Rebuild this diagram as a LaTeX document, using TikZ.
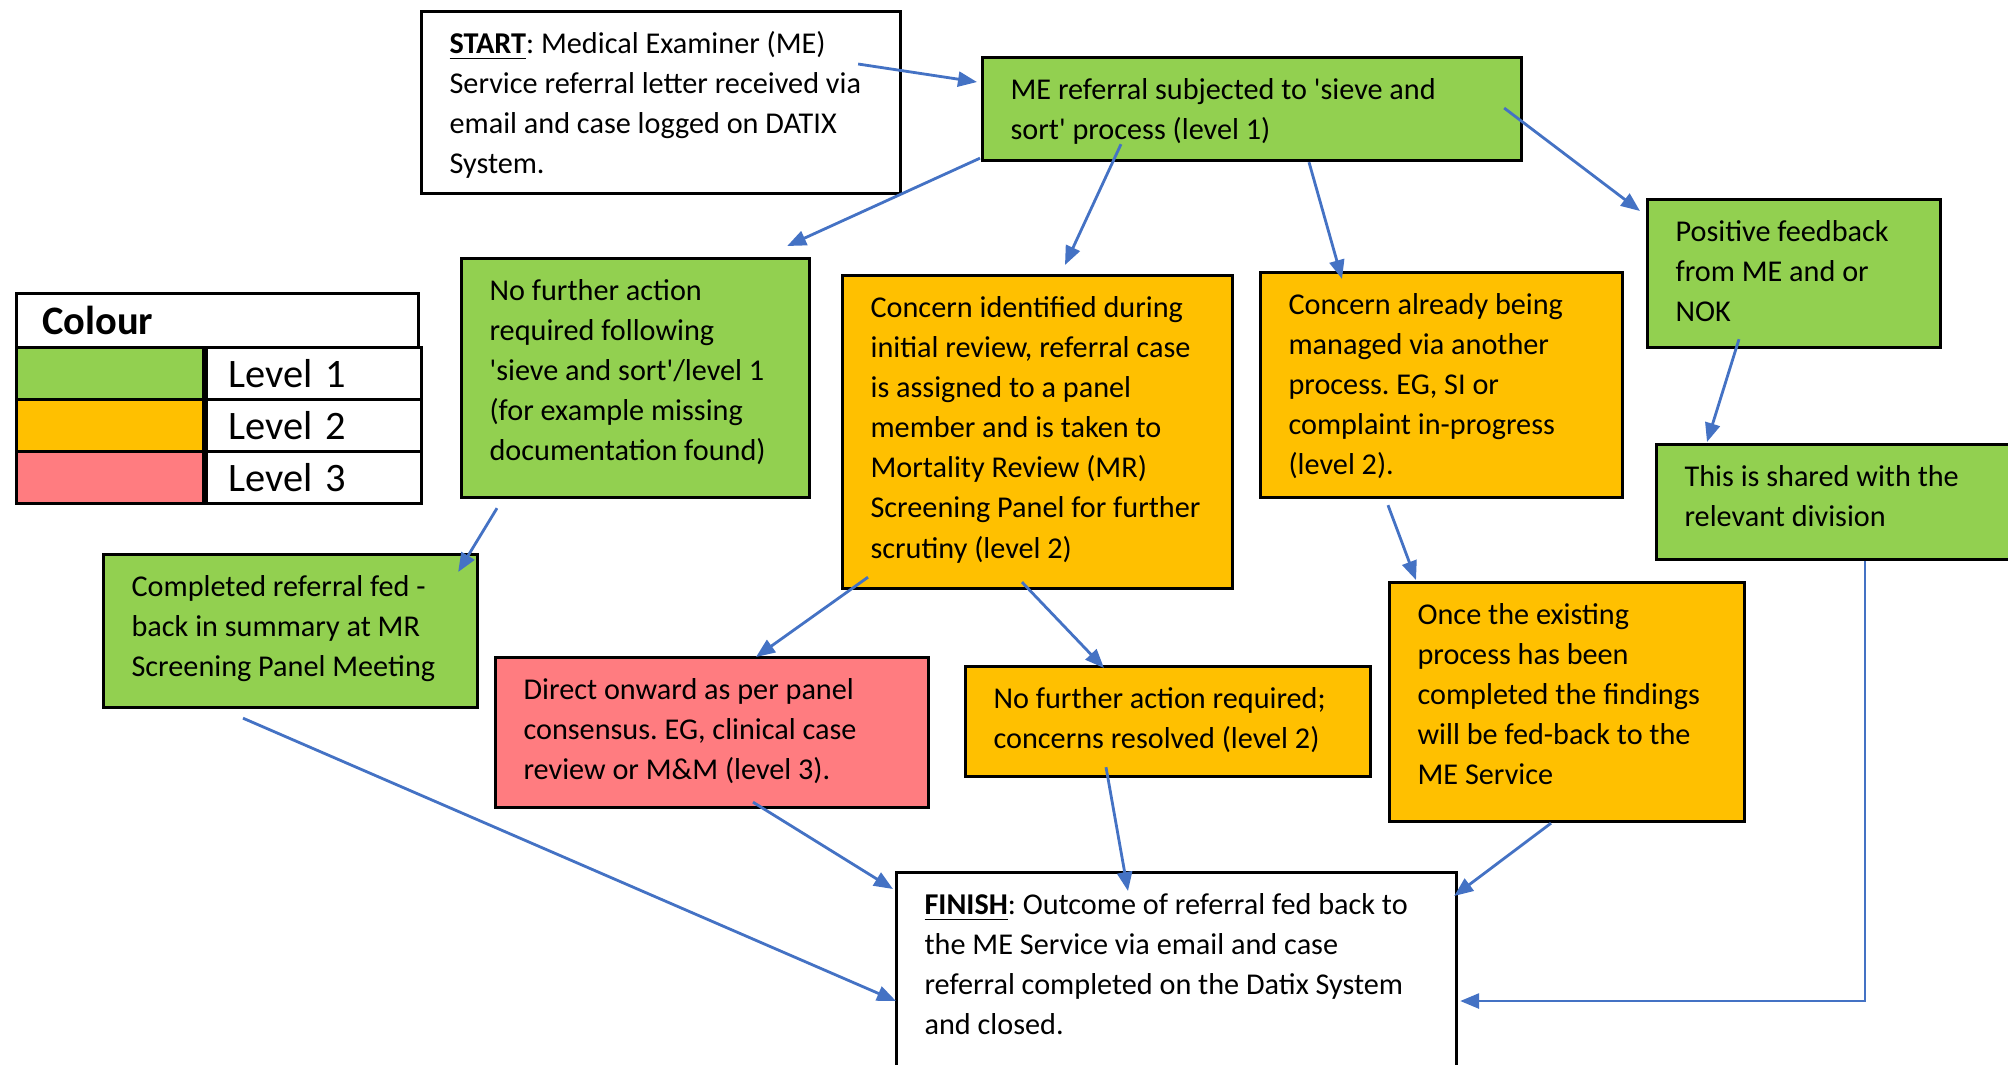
\documentclass[tikz,border=0pt]{standalone}
\usepackage{fontspec}
\setmainfont{Carlito}
\frenchspacing
\usetikzlibrary{arrows.meta}
\definecolor{lvlgreen}{HTML}{92D050}
\definecolor{lvlorange}{HTML}{FFC000}
\definecolor{lvlred}{HTML}{FF7C80}
\definecolor{flowblue}{HTML}{4472C4}
% text of a box: width, height, lines (set from the top left)
\newcommand{\cardtext}[3]{\parbox[c][#2][t]{#1}{\raggedright\leftskip=0.28cm\vspace*{0.14cm}\strut #3}}
\tikzset{
  card/.style={draw=black, line width=0.9pt, inner sep=0pt, anchor=north west,
    font=\fontsize{8.6}{11.4}\selectfont},
  flow/.style={draw=flowblue, line width=0.8pt, -{Triangle[length=0.19cm,width=0.15cm]}},
  legendcell/.style={draw=black, line width=0.8pt, anchor=north west,
    minimum height=0.52cm, inner sep=0pt}
}
\begin{document}
\begin{tikzpicture}
\useasboundingbox (0,0) rectangle (20.08,-10.64);
% Start and sieve
\node[card, fill=white] (start) at (4.20,-0.10) {\cardtext{4.79cm}{1.82cm}{\underline{\textbf{START}}: Medical Examiner (ME)\\ Service referral letter received via\\ email and case logged on DATIX\\ System.}};
\node[card, fill=lvlgreen] (sieve) at (9.81,-0.56) {\cardtext{5.39cm}{1.03cm}{ME referral subjected to \textquotesingle sieve and\\ sort\textquotesingle{} process (level 1)}};
% Second row
\node[card, fill=lvlgreen] (nofurther) at (4.60,-2.57) {\cardtext{3.48cm}{2.39cm}{No further action\\ required following\\ \textquotesingle sieve and sort\textquotesingle/level 1\\ (for example missing\\ documentation found)}};
\node[card, fill=lvlorange] (identified) at (8.41,-2.74) {\cardtext{3.90cm}{3.13cm}{Concern identified during\\ initial review, referral case\\ is assigned to a panel\\ member and is taken to\\ Mortality Review (MR)\\ Screening Panel for further\\ scrutiny (level 2)}};
\node[card, fill=lvlorange] (managed) at (12.59,-2.71) {\cardtext{3.62cm}{2.25cm}{Concern already being\\ managed via another\\ process. EG, SI or\\ complaint in-progress\\ (level 2).}};
\node[card, fill=lvlgreen] (positive) at (16.46,-1.98) {\cardtext{2.93cm}{1.48cm}{Positive feedback\\ from ME and or\\ NOK}};
\node[card, fill=lvlgreen] (shared) at (16.55,-4.43) {\cardtext{4.00cm}{1.15cm}{This is shared with the\\ relevant division}};
% Third row
\node[card, fill=lvlgreen] (completed) at (1.02,-5.53) {\cardtext{3.74cm}{1.53cm}{Completed referral fed -\\ back in summary at MR\\ Screening Panel Meeting}};
\node[card, fill=lvlred] (onward) at (4.94,-6.56) {\cardtext{4.33cm}{1.50cm}{Direct onward as per panel\\ consensus. EG, clinical case\\ review or M\&M (level 3).}};
\node[card, fill=lvlorange] (resolved) at (9.64,-6.65) {\cardtext{4.05cm}{1.10cm}{No further action required;\\ concerns resolved (level 2)}};
\node[card, fill=lvlorange] (existing) at (13.88,-5.81) {\cardtext{3.55cm}{2.39cm}{Once the existing\\ process has been\\ completed the findings\\ will be fed-back to the\\ ME Service}};
% Finish
\node[card, fill=white] (finish) at (8.95,-8.71) {\cardtext{5.60cm}{2.10cm}{\underline{\textbf{FINISH}}: Outcome of referral fed back to\\ the ME Service via email and case\\ referral completed on the Datix System\\ and closed.}};
% Legend
\node[legendcell, minimum width=4.02cm, minimum height=0.54cm, inner xsep=0.26cm, text width=3.50cm,
  align=left, font=\fontsize{11.5}{13}\selectfont\bfseries] (colourhead) at (0.15,-2.92) {Colour};
\foreach \shade/\lvl [count=\i] in {lvlgreen/1, lvlorange/2, lvlred/3}{
  \node[legendcell, fill=\shade, minimum width=1.87cm] (swatch\i) at (0.15,{-3.46-0.52*(\i-1)}) {};
  \node[legendcell, minimum width=2.15cm, inner xsep=0.22cm, text width=1.71cm, align=left,
    font=\fontsize{11.5}{13}\selectfont] (level\i) at (swatch\i.north east) {Level \lvl};
}
% Arrows out of the sieve
\draw[flow] ([shift={(-0.44,-0.54)}]start.north east) -- ([shift={(-0.04,-0.26)}]sieve.north west);
\draw[flow] ([shift={(-0.01,0.04)}]sieve.south west) -- ([shift={(-0.24,0.11)}]nofurther.north east);
\draw[flow] ([shift={(1.40,0.18)}]sieve.south west) -- ([shift={(2.24,0.09)}]identified.north west);
\draw[flow] ([shift={(3.28,0)}]sieve.south west) -- ([shift={(0.83,-0.08)}]managed.north west);
\draw[flow] ([shift={(-0.19,-0.52)}]sieve.north east) -- ([shift={(-0.06,-0.13)}]positive.north west);
% Middle arrows
\draw[flow] ([shift={(0.93,0.10)}]positive.south west) -- ([shift={(0.52,0.01)}]shared.north west);
\draw[flow] ([shift={(0.37,-0.09)}]nofurther.south west) -- ([shift={(-0.21,-0.19)}]completed.north east);
\draw[flow] ([shift={(0.27,0.13)}]identified.south west) -- ([shift={(2.62,-0.01)}]onward.north west);
\draw[flow] ([shift={(1.81,0.08)}]identified.south west) -- ([shift={(1.40,-0.03)}]resolved.north west);
\draw[flow] ([shift={(1.29,-0.06)}]managed.south west) -- ([shift={(0.28,0.01)}]existing.north west);
% Arrows into finish
\draw[flow] ([shift={(1.41,-0.09)}]completed.south west) -- ([shift={(0.01,-1.30)}]finish.north west);
\draw[flow] ([shift={(2.59,0.07)}]onward.south west) -- ([shift={(-0.02,-0.18)}]finish.north west);
\draw[flow] ([shift={(1.42,0.11)}]resolved.south west) -- ([shift={(2.33,-0.20)}]finish.north west);
\draw[flow] ([shift={(1.63,0)}]existing.south west) -- ([shift={(-0.04,-0.25)}]finish.north east);
\draw[flow] ([shift={(2.10,0)}]shared.south west) |- ([shift={(0.02,-1.30)}]finish.north east);
\end{tikzpicture}
\end{document}
